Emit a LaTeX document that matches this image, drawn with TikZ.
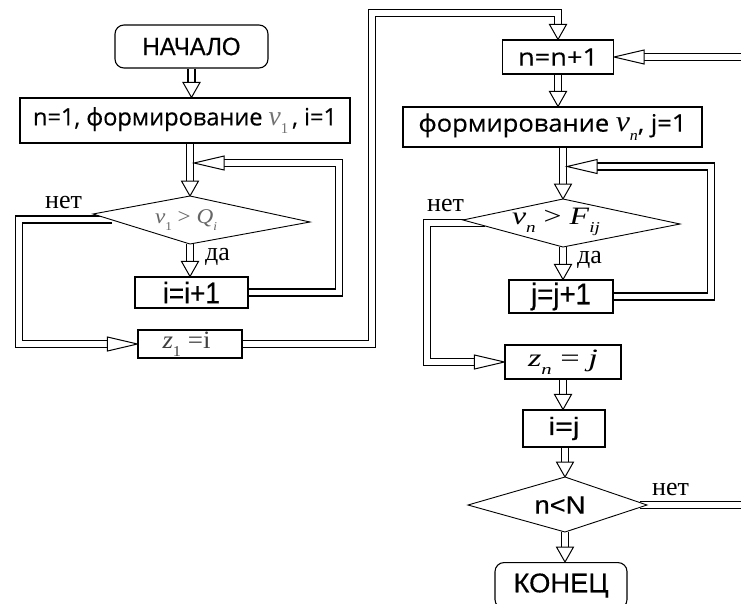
\documentclass[tikz,border=0pt]{standalone}
\usepackage{fontspec}
\usepackage{graphicx}
\setmainfont{Liberation Serif}
\newfontfamily\arialf[FakeBold=0.4]{Liberation Sans}
\newfontfamily\segf[FakeBold=0.3]{Open Sans}
\usetikzlibrary{decorations.markings,backgrounds}
\newcommand\fsz[1]{\fontsize{#1}{#1}\selectfont}
\newcommand\sx[2]{\resizebox{#1}{\height}{#2}}
\newcommand\lsub[1]{\raisebox{-0.3em}{\fsz{15}#1}}
\newcommand\ssub[1]{\raisebox{-0.3em}{\fsz{12}#1}}
\tikzset{
  blk/.style={draw, line width=1.1pt, fill=white, inner sep=0pt},
  rblk/.style={blk, rounded corners=9pt},
  dia/.style={draw, line width=0.9pt, fill=white, line join=miter},
  lbl/.style={inner sep=0pt, font=\fsz{26}},
  tipmark/.style 2 args={decoration={markings, mark=at position 1 with {
      \fill[white] (-#1pt,-4.8pt) rectangle (0pt,4.8pt);
      \draw[black, line width=1pt, fill=white, line join=miter] (0pt,0pt) -- (-#1pt,#2pt) -- (-#1pt,-#2pt) -- cycle;}}},
  dbln/.style={draw=black, line width=8.2pt, line join=miter,
      postaction={draw=white, line width=5.8pt}},
  dbl/.style 2 args={dbln, postaction={decorate, tipmark={#1}{#2}}},
  dv/.style={dbl={15}{8.5}},
  dh/.style={dbl={30}{7}},
}
\begin{document}
\begin{tikzpicture}[x=1pt,y=-1pt]
\useasboundingbox (0,0) rectangle (741,603);
\clip (0,0) rectangle (741,603);
% ---------- left column ----------
\node[rblk, minimum width=153pt, minimum height=43pt, font=\arialf\fsz{25}] (start) at (191.5,46.5) {\sx{98pt}{НАЧАЛО}};
\node[blk, minimum width=330pt, minimum height=45pt] (box1) at (185,120.5)
  {\sx{304pt}{\segf\fsz{24}n=1, формирование {\rmfamily\itshape\color{black!55}\fsz{28}ν\lsub{\upshape 1}}\,, i=1}};
\coordinate (d1t) at (190,196); \coordinate (d1r) at (310,222);
\coordinate (d1b) at (190,244); \coordinate (d1l) at (93,214);
\draw[dia] (d1t) -- (d1r) -- (d1b) -- (d1l) -- cycle;
\node[inner sep=0pt] (d1txt) at (186,220) {\sx{62pt}{\color{black!60}\fsz{21}\textit{ν}\ssub{1} > \textit{Q}\ssub{\itshape i}}};
\node[blk, minimum width=113pt, minimum height=31pt, font=\arialf\fsz{30}] (inc) at (191.5,292.5) {\sx{57pt}{i=i+1}};
\node[blk, minimum width=104pt, minimum height=28pt] (z1) at (190,344) {\sx{48pt}{\color{black!75}\fsz{25}\textit{z}\lsub{1} =i}\hspace*{7pt}};
\node[lbl, anchor=base west] (no1) at (45,208) {нет};
\node[lbl, anchor=base west] (yes1) at (205,260) {да};
% ---------- right column ----------
\node[blk, minimum width=111pt, minimum height=34pt] (nn) at (558,57) {\sx{80pt}{\segf\fsz{24}n=n+1}};
\node[blk, minimum width=299pt, minimum height=40pt] (form) at (552.5,127)
  {\sx{268pt}{\segf\fsz{24}формирование {\rmfamily\itshape\fsz{30}ν\lsub{n}}, j=1}};
\coordinate (d2t) at (563,199); \coordinate (d2r) at (680,224);
\coordinate (d2b) at (563,247); \coordinate (d2l) at (463,220);
\draw[dia] (d2t) -- (d2r) -- (d2b) -- (d2l) -- cycle;
\node[inner sep=0pt] (d2txt) at (556,222) {\sx{88pt}{\fsz{25}\textit{ν}\lsub{\itshape n} > \textit{F}\lsub{\itshape ij}}};
\node[blk, minimum width=104pt, minimum height=33pt, font=\arialf\fsz{30}] (jj) at (561,296.5) {\sx{60pt}{j=j+1}};
\node[blk, minimum width=116pt, minimum height=34pt] (zn) at (563,362) {\sx{70pt}{\fsz{25}\textit{z}\lsub{\itshape n} = \textit{j}}};
\node[blk, minimum width=82pt, minimum height=37pt, font=\arialf\fsz{25}] (ij) at (564,428.5) {\sx{31pt}{i=j}};
\coordinate (d3t) at (565,477); \coordinate (d3r) at (647,505);
\coordinate (d3b) at (565,532); \coordinate (d3l) at (468,505);
\draw[dia] (d3t) -- (d3r) -- (d3b) -- (d3l) -- cycle;
\node[inner sep=0pt, font=\arialf\fsz{25}] (d3txt) at (560,505) {\sx{51pt}{n<N}};
\node[rblk, minimum width=132pt, minimum height=46pt, font=\arialf\fsz{27}, anchor=north] (end) at (561,562) {\sx{95pt}{КОНЕЦ}};
\node[lbl, anchor=base west] (no2) at (427,211.5) {нет};
\node[lbl, anchor=base west] (yes2) at (577,263) {да};
\node[lbl, anchor=base west] (no3) at (652,495) {нет};
% ---------- connectors ----------
\begin{scope}[on background layer]
\draw[dv] (start.south) -- (start.south |- box1.north);
\draw[dv] (box1.south -| d1t) -- (d1t);
\draw[dv] (d1b) -- (d1b |- inc.north);
\coordinate (lp1) at (339,163);
\coordinate (j1) at (194.1,163);
\draw[dh] (inc.east) -| (lp1) -- (j1);
\coordinate (n1s) at (112,219.5);
\coordinate (n1) at (19,219.5);
\draw[dh] (n1s) -- (n1) |- (z1.west);
\coordinate (r1) at (372,13.3);
\draw[dv] (z1.east) -| (r1) -| (nn.north);
\coordinate (rin) at (760,57);
\draw[dh] (rin) -- (nn.east);
\draw[dv] (nn.south) -- (nn.south |- form.north);
\draw[dv] (form.south -| d2t) -- (d2t);
\draw[dv] (d2b) -- (d2b |- jj.north);
\coordinate (lp2) at (711,166.5);
\coordinate (j2) at (567.1,166.5);
\draw[dh] (jj.east) -| (lp2) -- (j2);
\coordinate (n2s) at (485,223);
\coordinate (n2) at (427,223);
\draw[dh] (n2s) -- (n2) |- (zn.west);
\draw[dv] (zn.south) -- (zn.south |- ij.north);
\draw[dv] (ij.south -| d3t) -- (d3t);
\draw[dv] (d3b) -- (d3b |- end.north);
\coordinate (n3s) at (640,505);
\coordinate (rout) at (760,505);
\draw[dbln] (n3s) -- (rout);
\end{scope}
\end{tikzpicture}
\end{document}
